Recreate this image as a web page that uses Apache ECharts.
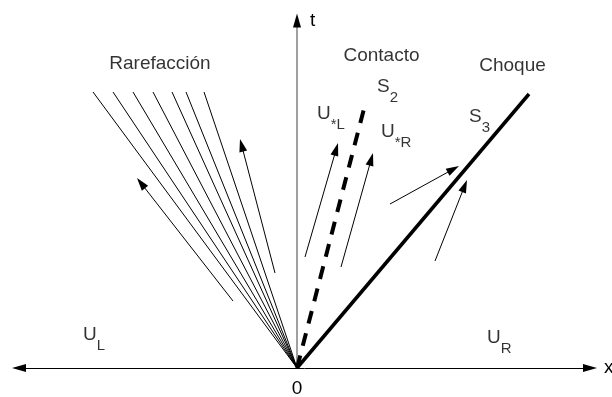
<!DOCTYPE html>
<html>
<head>
<meta charset="utf-8">
<script src="https://cdn.jsdelivr.net/npm/echarts@6/dist/echarts.min.js"></script>
<style>
html,body{margin:0;padding:0;background:#fff;}
#chart{width:612px;height:397px;}
</style>
</head>
<body>
<div id="chart"></div>
<script>
// ---- data (x and t in diagram units) ----
const xRange = [-2.78, 2.93];
const tRange = [0, 3.475];

const fanTopX = [-2.04, -1.84, -1.64, -1.44, -1.25, -1.11, -0.93];
const fanTopT = [2.76, 2.76, 2.76, 2.76, 2.76, 2.76, 2.76];

const contactEnd = [0.69, 2.67];
const shockEnd = [2.32, 2.74];

const arrowFromX = [-0.64, -0.22, 0.08, 0.44, 0.93, 1.38];
const arrowFromT = [0.67, 0.95, 1.11, 1.01, 1.64, 1.07];
const arrowToX = [-1.60, -0.57, 0.41, 0.76, 1.62, 1.70];
const arrowToT = [1.90, 2.29, 2.25, 2.15, 2.02, 1.88];

const waveNames = ['Rarefacción', 'Contacto', 'Choque'];
const waveNameX = [-1.37, 0.845, 2.155];
const waveNameT = [3.04, 3.12, 3.02];

const stateMain = ['U', 'U', 'U', 'U', 'S', 'S'];
const stateSub = ['L', 'R', '*L', '*R', '2', '3'];
const stateX = [-2.14, 1.90, 0.20, 0.84, 0.80, 1.72];
const stateT = [0.43, 0.40, 2.64, 2.46, 2.91, 2.61];

const originTick = [0];

// ---- build ----
const FONT = '"Liberation Sans", Arial, Helvetica, sans-serif';
const KIND_FAN = 0, KIND_CONTACT = 1, KIND_SHOCK = 2, KIND_ARROW = 3, KIND_AXISHEAD = 4;

const segs = [];
fanTopX.forEach((x, i) => segs.push([0, 0, x, fanTopT[i], KIND_FAN]));
segs.push([0, 0, contactEnd[0], contactEnd[1], KIND_CONTACT]);
segs.push([0, 0, shockEnd[0], shockEnd[1], KIND_SHOCK]);
arrowFromX.forEach((x, i) => segs.push([x, arrowFromT[i], arrowToX[i], arrowToT[i], KIND_ARROW]));
segs.push([0, tRange[1], 0, tRange[1], KIND_AXISHEAD]);

function renderItem(params, api) {
  const kind = api.value(4);
  const a = api.coord([api.value(0), api.value(1)]);
  const b = api.coord([api.value(2), api.value(3)]);
  if (kind === KIND_FAN) {
    return {type: 'line', shape: {x1: a[0], y1: a[1], x2: b[0], y2: b[1]},
      style: {stroke: '#000', lineWidth: 1, fill: null}};
  }
  if (kind === KIND_CONTACT) {
    return {type: 'line', shape: {x1: a[0], y1: a[1], x2: b[0], y2: b[1]},
      style: {stroke: '#000', lineWidth: 4, lineDash: [13, 10], lineCap: 'butt', fill: null}};
  }
  if (kind === KIND_SHOCK) {
    return {type: 'line', shape: {x1: a[0], y1: a[1], x2: b[0], y2: b[1]},
      style: {stroke: '#000', lineWidth: 3.5, fill: null}};
  }
  if (kind === KIND_ARROW) {
    const dx = b[0] - a[0], dy = b[1] - a[1];
    const len = Math.sqrt(dx * dx + dy * dy);
    const ux = dx / len, uy = dy / len;
    const hl = 13, hw = 4;
    const bx = b[0] - ux * hl, by = b[1] - uy * hl;
    return {type: 'group', children: [
      {type: 'line', shape: {x1: a[0], y1: a[1], x2: bx + ux, y2: by + uy},
        style: {stroke: '#000', lineWidth: 1, fill: null}},
      {type: 'polygon', shape: {points: [[b[0], b[1]], [bx - uy * hw, by + ux * hw], [bx + uy * hw, by - ux * hw]]},
        style: {fill: '#000', stroke: null}}
    ]};
  }
  // t-axis arrow head centred on the axis end
  return {type: 'polygon', shape: {points: [[b[0], b[1] - 7], [b[0] - 4, b[1] + 7], [b[0] + 4, b[1] + 7]]},
    style: {fill: '#000', stroke: null}};
}

const waveData = waveNames.map((n, i) => ({name: n, value: [waveNameX[i], waveNameT[i]]}));
const stateData = stateMain.map((m, i) => ({name: m + stateSub[i], value: [stateX[i], stateT[i]],
  label: {formatter: '{m|' + m + '}{s|' + stateSub[i] + '}'}}));

const chart = echarts.init(document.getElementById('chart'), null, {renderer: 'canvas'});
chart.setOption({
  backgroundColor: '#fff',
  animation: false,
  grid: {left: 19, right: 22, top: 20.5, bottom: 29, containLabel: false, outerBoundsMode: 'none'},
  xAxis: {
    type: 'value', min: xRange[0], max: xRange[1],
    name: 'x', nameLocation: 'end', nameGap: 14,
    nameTextStyle: {fontSize: 19, color: '#000', fontFamily: FONT, align: 'left', verticalAlign: 'middle'},
    axisLine: {show: true, onZero: true, symbol: ['triangle', 'triangle'], symbolSize: [8, 14],
      lineStyle: {color: '#000', width: 1}},
    axisTick: {show: false},
    splitLine: {show: false},
    axisLabel: {show: true, customValues: originTick, fontSize: 19, color: '#000', fontFamily: FONT, margin: 11,
      formatter: v => String(v)}
  },
  yAxis: {
    type: 'value', min: tRange[0], max: tRange[1],
    name: 't', nameLocation: 'end', nameGap: 0,
    nameTextStyle: {fontSize: 19, color: '#000', fontFamily: FONT, align: 'left', verticalAlign: 'middle',
      padding: [0, 0, 0, 13]},
    axisLine: {show: true, onZero: true, symbol: 'none', lineStyle: {color: '#808080', width: 1.5}},
    axisTick: {show: false},
    splitLine: {show: false},
    axisLabel: {show: false}
  },
  series: [
    {
      type: 'custom', name: 'ondas', renderItem: renderItem, data: segs,
      dimensions: ['x1', 't1', 'x2', 't2', 'kind'],
      encode: {x: [0, 2], y: [1, 3]}, silent: true, z: 3, clip: false
    },
    {
      type: 'scatter', name: 'ondasNombre', data: waveData, symbolSize: 1, silent: true, z: 5,
      itemStyle: {color: 'rgba(0,0,0,0)'},
      label: {show: true, position: 'inside', align: 'center', verticalAlign: 'middle',
        formatter: p => p.name, fontSize: 19, color: '#000', fontFamily: FONT, textBorderWidth: 0}
    },
    {
      type: 'scatter', name: 'estados', data: stateData, symbolSize: 1, silent: true, z: 5,
      itemStyle: {color: 'rgba(0,0,0,0)'},
      label: {show: true, position: 'inside', align: 'left', verticalAlign: 'top', color: '#000',
        textBorderWidth: 0,
        rich: {
          m: {fontSize: 19, lineHeight: 30, verticalAlign: 'top', color: '#000', fontFamily: FONT},
          s: {fontSize: 15, lineHeight: 30, verticalAlign: 'top', padding: [13, 0, 0, 0], color: '#000', fontFamily: FONT}
        }}
    }
  ]
});
</script>
</body>
</html>
